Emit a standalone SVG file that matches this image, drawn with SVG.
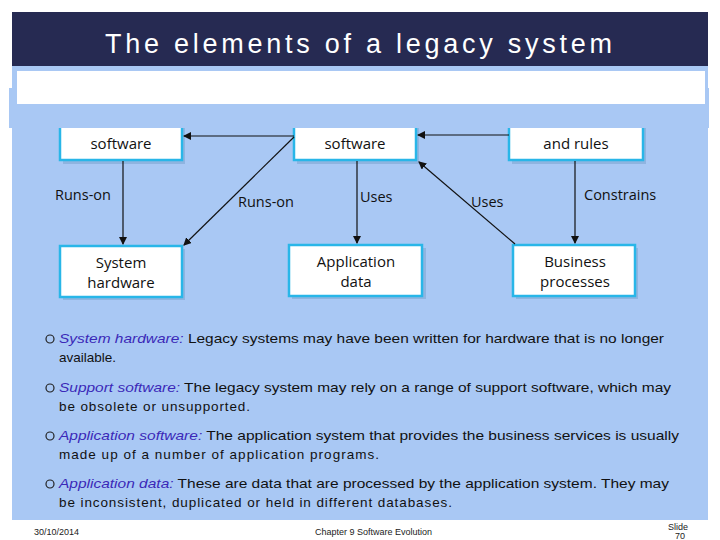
<svg xmlns="http://www.w3.org/2000/svg" width="720" height="540" viewBox="0 0 720 540">
<defs>
<style>
.box{fill:#fff;stroke:#29b6e8;stroke-width:2.5}
.sh{fill:#8fb4e0}
.bt{font-family:"Open Sans","DejaVu Sans",sans-serif;font-size:15px;fill:#111;text-anchor:middle}
.lb{font-family:"Open Sans","DejaVu Sans",sans-serif;font-size:14.5px;fill:#111}
.ln{stroke:#111;stroke-width:1.2;fill:none;marker-end:url(#ah)}
.tx{font-family:"Liberation Sans",Arial,sans-serif;font-size:13.5px;fill:#111}
.it{font-style:italic;fill:#3b28b8}
.ft{font-family:"Liberation Sans",Arial,sans-serif;font-size:9px;fill:#222}
</style>
<marker id="ah" markerWidth="8" markerHeight="8" refX="7" refY="4" orient="auto" markerUnits="userSpaceOnUse"><path d="M0,0 L8,4 L0,8 Z" fill="#111"/></marker>
<clipPath id="cl"><rect x="0" y="128" width="720" height="412"/></clipPath>
</defs>
<rect width="720" height="540" fill="#fff"/>
<rect x="12" y="65" width="696" height="455" fill="#a9c8f4"/>
<rect x="12" y="12" width="696" height="54" fill="#262a52"/>
<text x="105" y="53" textLength="507" lengthAdjust="spacing" font-family="'Liberation Sans',Arial,sans-serif" font-size="27" fill="#fff">The elements of a legacy system</text>
<rect x="9" y="88" width="700" height="40" fill="#a9c8f4"/>
<rect x="17" y="71" width="688" height="33" fill="#fff"/>
<g clip-path="url(#cl)">
<g id="support-software"><rect class="sh" x="63" y="113" width="122" height="51"/><rect class="box" x="60" y="110" width="122" height="50"/><text class="bt" x="121" y="149">software</text></g>
<g id="application-software"><rect class="sh" x="297" y="113" width="122" height="51"/><rect class="box" x="294" y="110" width="122" height="50"/><text class="bt" x="355" y="149">software</text></g>
<g id="business-rules"><rect class="sh" x="512" y="113" width="134" height="51"/><rect class="box" x="509" y="110" width="134" height="50"/><text class="bt" x="576" y="149">and rules</text></g>
</g>
<g id="system-hardware"><rect class="sh" x="63" y="249" width="122" height="51"/><rect class="box" x="60" y="246" width="122" height="51"/><text class="bt" x="121" y="268">System</text><text class="bt" x="121" y="288">hardware</text></g>
<g id="application-data"><rect class="sh" x="292" y="248" width="134" height="51"/><rect class="box" x="289" y="245" width="133" height="51"/><text class="bt" x="356" y="267">Application</text><text class="bt" x="356" y="287">data</text></g>
<g id="business-processes"><rect class="sh" x="516" y="248" width="122" height="51"/><rect class="box" x="513" y="245" width="122" height="51"/><text class="bt" x="575" y="267">Business</text><text class="bt" x="575" y="287">processes</text></g>
<g id="connectors">
<line class="ln" x1="294" y1="136" x2="184" y2="136"/>
<line class="ln" x1="509" y1="135" x2="418" y2="135"/>
<line class="ln" x1="123" y1="161" x2="123" y2="244"/>
<line class="ln" x1="294" y1="137" x2="184" y2="245"/>
<line class="ln" x1="357" y1="161" x2="357" y2="243"/>
<line class="ln" x1="515" y1="244" x2="419" y2="162"/>
<line class="ln" x1="575" y1="161" x2="575" y2="243"/>
<text class="lb" x="55" y="200">Runs-on</text>
<text class="lb" x="238" y="207">Runs-on</text>
<text class="lb" x="360" y="202">Uses</text>
<text class="lb" x="471" y="207">Uses</text>
<text class="lb" x="584" y="200">Constrains</text>
</g>
<g fill="none" stroke="#222" stroke-width="1.2"><circle cx="50" cy="339" r="4"/><circle cx="50" cy="388" r="4"/><circle cx="50" cy="436" r="4"/><circle cx="50" cy="484" r="4"/></g>
<text class="tx" x="59" y="343" textLength="605" lengthAdjust="spacingAndGlyphs"><tspan class="it">System hardware:</tspan>  Legacy systems may have been written for hardware that is no longer</text>
<text class="tx" x="59" y="362">available.</text>
<text class="tx" x="59" y="392" textLength="612" lengthAdjust="spacingAndGlyphs"><tspan class="it">Support software:</tspan>  The legacy system may rely on a range of support software, which may</text>
<text class="tx" x="59" y="411" textLength="191" lengthAdjust="spacing">be obsolete or unsupported.</text>
<text class="tx" x="59" y="440" textLength="620" lengthAdjust="spacingAndGlyphs"><tspan class="it">Application software:</tspan>  The application system that provides the business services is usually</text>
<text class="tx" x="59" y="459" textLength="320" lengthAdjust="spacing">made up of a number of application programs.</text>
<text class="tx" x="59" y="488" textLength="610" lengthAdjust="spacingAndGlyphs"><tspan class="it">Application data:</tspan>  These are data that are processed by the application system. They may</text>
<text class="tx" x="59" y="507" textLength="393" lengthAdjust="spacing">be inconsistent, duplicated or held in different databases.</text>
<text class="ft" x="34" y="535">30/10/2014</text>
<text class="ft" x="315" y="535">Chapter 9 Software Evolution</text>
<text class="ft" x="668" y="530">Slide</text>
<text class="ft" x="675" y="539">70</text>
</svg>
